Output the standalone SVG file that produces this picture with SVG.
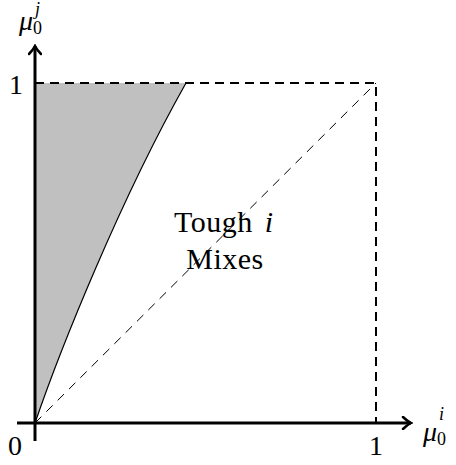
<svg xmlns="http://www.w3.org/2000/svg" width="456" height="465" viewBox="0 0 456 465">
<style>
text{font-family:"Liberation Serif","DejaVu Serif",serif;fill:#000}
.lbl{font-size:28px}
.big{font-size:30px;letter-spacing:0.5px}
.sub{font-size:18px}
.it{font-style:italic}
.axis{stroke:#000;stroke-width:3;fill:none}
.dash{stroke:#000;stroke-width:2;fill:none;stroke-dasharray:9 6;stroke-linejoin:round}
.diag{stroke:#000;stroke-width:1;fill:none;stroke-dasharray:9 7}
</style>
<defs>
<marker id="arr" viewBox="0 0 12 14" refX="10" refY="7" markerWidth="12" markerHeight="14" markerUnits="userSpaceOnUse" orient="auto">
<path d="M2,1 Q6,5 10,7 Q6,9 2,13" fill="none" stroke="#000" stroke-width="2.5" stroke-linecap="round"/>
</marker>
</defs>
<g id="region">
<path d="M35,423 L35,83 L186,83 C120,200 60,350 35,423 Z" fill="#c0c0c0" stroke="none"/>
<path d="M186,83 C120,200 60,350 35,423" fill="none" stroke="#000" stroke-width="1.2"/>
</g>
<g id="connectors">
<path class="dash" d="M35,83 L376,83 L376,423"/>
<path class="diag" d="M35,423 L376,83"/>
<line class="axis" x1="35" y1="441" x2="35" y2="46" marker-end="url(#arr)"/>
<line class="axis" x1="17" y1="423" x2="411" y2="423" marker-end="url(#arr)"/>
</g>
<g id="label-mixes">
<text class="big" x="174" y="232">Tough<tspan class="it" dx="12">i</tspan></text>
<text class="big" x="225" y="269" text-anchor="middle">Mixes</text>
</g>
<g id="ticks">
<text class="lbl" x="16" y="94" text-anchor="middle">1</text>
<text class="lbl" x="15" y="455" text-anchor="middle">0</text>
<text class="lbl" x="376" y="455" text-anchor="middle">1</text>
</g>
<g id="ylabel">
<text class="lbl it" x="19" y="30">μ</text>
<text class="sub" x="33" y="34">0</text>
<text class="sub it" x="35" y="15">j</text>
</g>
<g id="xlabel">
<text class="lbl it" x="423" y="441">μ</text>
<text class="sub" x="437" y="445">0</text>
<text class="sub it" x="439" y="420">i</text>
</g>
</svg>
